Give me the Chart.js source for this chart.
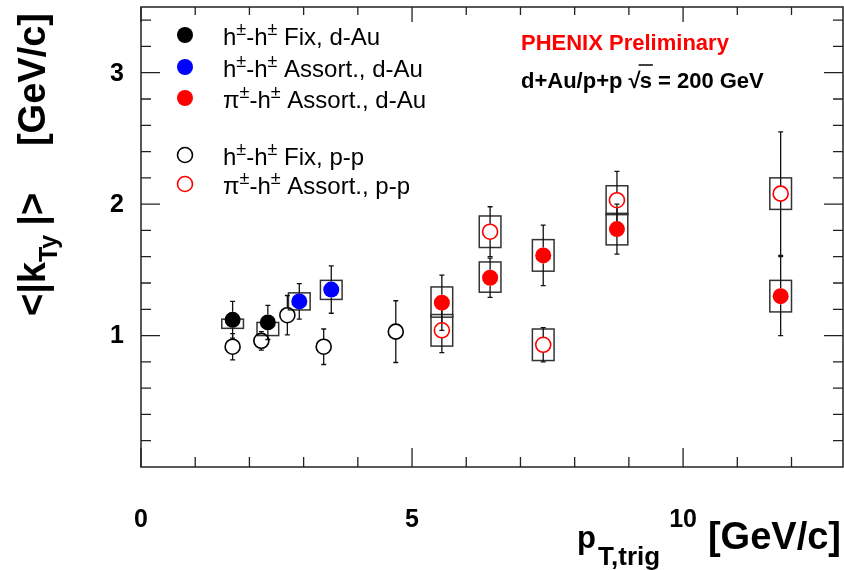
<!DOCTYPE html>
<html>
<head>
<meta charset="utf-8">
<script src="https://cdn.jsdelivr.net/npm/chart.js@4"></script>
<style>
html,body{margin:0;padding:0;background:#fff;}
#wrap{width:844px;height:570px;}
</style>
</head>
<body>
<div id="wrap"><canvas id="c" width="844" height="570"></canvas></div>
<script>
// ---------- DATA ----------
// h±-h± Fix, d-Au (filled black)
const fixDAuX = [1.69, 2.34];
const fixDAuY = [1.12, 1.10];
const fixDAuErr = [0.14, 0.13];
const fixDAuSysLo = [1.055, 1.00];
const fixDAuSysHi = [1.125, 1.10];

// h±-h± Assort., d-Au (filled blue)
const assDAuX = [2.92, 3.51];
const assDAuY = [1.26, 1.35];
const assDAuErr = [0.135, 0.18];
const assDAuSysLo = [1.195, 1.275];
const assDAuSysHi = [1.325, 1.42];

// π±-h± Assort., d-Au (filled red)
const piDAuX = [5.55, 6.44, 7.42, 8.78, 11.8];
const piDAuY = [1.25, 1.44, 1.61, 1.81, 1.30];
const piDAuErr = [0.21, 0.15, 0.23, 0.19, 0.30];
const piDAuSysLo = [1.14, 1.33, 1.49, 1.69, 1.18];
const piDAuSysHi = [1.37, 1.56, 1.73, 1.93, 1.42];

// h±-h± Fix, p-p (open black)
const fixPPX = [1.69, 2.22, 2.70, 3.37, 4.70];
const fixPPY = [0.915, 0.96, 1.155, 0.915, 1.03];
const fixPPErr = [0.10, 0.07, 0.15, 0.135, 0.235];

// π±-h± Assort., p-p (open red)
const piPPX = [5.55, 6.44, 7.42, 8.78, 11.8];
const piPPY = [1.04, 1.79, 0.93, 2.03, 2.08];
const piPPErr = [0.17, 0.19, 0.13, 0.22, 0.47];
const piPPSysLo = [0.92, 1.67, 0.81, 1.92, 1.96];
const piPPSysHi = [1.16, 1.91, 1.05, 2.14, 2.20];

const sysHalfWidth = 0.2;

// axes
const xMin = 0, xMax = 12.95, yMin = 0, yMax = 3.5;
const xMajorTicks = [0, 5, 10];
const xMinorTicks = [1, 2, 3, 4, 6, 7, 8, 9, 11, 12];
const yMajorTicks = [1, 2, 3];
const yMinorTicks = [0.2, 0.4, 0.6, 0.8, 1.2, 1.4, 1.6, 1.8, 2.2, 2.4, 2.6, 2.8, 3.2, 3.4];
const xTickLabels = ['0', '5', '10'];
const yTickLabels = ['1', '2', '3'];

// legend labels
const legendLabels = [
  [['h'], ['±', 'sup'], ['-h'], ['±', 'sup'], [' Fix, d-Au']],
  [['h'], ['±', 'sup'], ['-h'], ['±', 'sup'], [' Assort., d-Au']],
  [['π'], ['±', 'sup'], ['-h'], ['±', 'sup'], [' Assort., d-Au']],
  [['h'], ['±', 'sup'], ['-h'], ['±', 'sup'], [' Fix, p-p']],
  [['π'], ['±', 'sup'], ['-h'], ['±', 'sup'], [' Assort., p-p']]
];

const FONT = '"Liberation Sans", Arial, Helvetica, sans-serif';

function pts(xs, ys) { return xs.map((x, i) => ({x: x, y: ys[i]})); }

const series = [
  {label: 'h±-h± Fix, d-Au', x: fixDAuX, y: fixDAuY, err: fixDAuErr, lo: fixDAuSysLo, hi: fixDAuSysHi, color: '#000000', filled: true},
  {label: 'h±-h± Assort., d-Au', x: assDAuX, y: assDAuY, err: assDAuErr, lo: assDAuSysLo, hi: assDAuSysHi, color: '#0000ff', filled: true},
  {label: 'π±-h± Assort., d-Au', x: piDAuX, y: piDAuY, err: piDAuErr, lo: piDAuSysLo, hi: piDAuSysHi, color: '#ff0000', filled: true},
  {label: 'h±-h± Fix, p-p', x: fixPPX, y: fixPPY, err: fixPPErr, lo: null, hi: null, color: '#000000', filled: false},
  {label: 'π±-h± Assort., p-p', x: piPPX, y: piPPY, err: piPPErr, lo: piPPSysLo, hi: piPPSysHi, color: '#ff0000', filled: false}
];

const R_FILLED = 8, R_OPEN = 7.5;

// draw order: open first, then filled
const drawOrder = [3, 4, 0, 1, 2];
const datasets = drawOrder.map(i => {
  const s = series[i];
  return {
    label: s.label,
    data: pts(s.x, s.y),
    pointRadius: s.filled ? R_FILLED : R_OPEN,
    pointHoverRadius: s.filled ? R_FILLED : R_OPEN,
    pointBackgroundColor: s.filled ? s.color : 'rgba(0,0,0,0)',
    pointBorderColor: s.color,
    pointBorderWidth: s.filled ? 0 : 1.6,
    showLine: false
  };
});

function richText(ctx, parts, x, y, size, bold) {
  let cx = x;
  parts.forEach(p => {
    const isSup = p[1] === 'sup';
    const isSub = p[1] === 'sub';
    const fs = isSup || isSub ? Math.round(size * 0.75) : size;
    ctx.font = (bold ? 'bold ' : '') + fs + 'px ' + FONT;
    const dy = isSup ? -size * 0.4 : (isSub ? size * 0.3 : 0);
    ctx.fillText(p[0], cx, y + dy);
    cx += ctx.measureText(p[0]).width;
  });
  return cx;
}

const decorPlugin = {
  id: 'decor',
  beforeDatasetsDraw(chart) {
    const ctx = chart.ctx;
    const xs = chart.scales.x, ys = chart.scales.y;
    ctx.save();
    // systematic boxes
    ctx.strokeStyle = '#333';
    ctx.lineWidth = 1.5;
    series.forEach(s => {
      if (!s.lo) return;
      s.x.forEach((xv, i) => {
        const x0 = xs.getPixelForValue(xv - sysHalfWidth), x1 = xs.getPixelForValue(xv + sysHalfWidth);
        const y0 = ys.getPixelForValue(s.hi[i]), y1 = ys.getPixelForValue(s.lo[i]);
        ctx.strokeRect(x0, y0, x1 - x0, y1 - y0);
      });
    });
    // statistical error bars
    ctx.strokeStyle = '#111';
    ctx.lineWidth = 1.3;
    series.forEach(s => {
      const r = s.filled ? R_FILLED : R_OPEN;
      s.x.forEach((xv, i) => {
        const px = xs.getPixelForValue(xv);
        const py = ys.getPixelForValue(s.y[i]);
        const pHi = ys.getPixelForValue(s.y[i] + s.err[i]);
        const pLo = ys.getPixelForValue(s.y[i] - s.err[i]);
        ctx.beginPath();
        if (py - r > pHi) { ctx.moveTo(px, py - r); ctx.lineTo(px, pHi); }
        if (py + r < pLo) { ctx.moveTo(px, py + r); ctx.lineTo(px, pLo); }
        ctx.moveTo(px - 2.5, pHi); ctx.lineTo(px + 2.5, pHi);
        ctx.moveTo(px - 2.5, pLo); ctx.lineTo(px + 2.5, pLo);
        ctx.stroke();
      });
    });
    ctx.restore();
  },
  afterDraw(chart) {
    const ctx = chart.ctx;
    const xs = chart.scales.x, ys = chart.scales.y;
    const a = chart.chartArea;
    ctx.save();
    // frame
    ctx.strokeStyle = '#222';
    ctx.lineWidth = 1.5;
    ctx.strokeRect(a.left, a.top, a.right - a.left, a.bottom - a.top);
    // ticks
    ctx.lineWidth = 1.3;
    ctx.beginPath();
    xMajorTicks.forEach(v => {
      const p = xs.getPixelForValue(v);
      ctx.moveTo(p, a.bottom); ctx.lineTo(p, a.bottom - 19);
      ctx.moveTo(p, a.top); ctx.lineTo(p, a.top + 15);
    });
    xMinorTicks.forEach(v => {
      const p = xs.getPixelForValue(v);
      ctx.moveTo(p, a.bottom); ctx.lineTo(p, a.bottom - 10);
      ctx.moveTo(p, a.top); ctx.lineTo(p, a.top + 8);
    });
    yMajorTicks.forEach(v => {
      const p = ys.getPixelForValue(v);
      ctx.moveTo(a.left, p); ctx.lineTo(a.left + 19, p);
      ctx.moveTo(a.right, p); ctx.lineTo(a.right - 19, p);
    });
    yMinorTicks.forEach(v => {
      const p = ys.getPixelForValue(v);
      ctx.moveTo(a.left, p); ctx.lineTo(a.left + 10, p);
      ctx.moveTo(a.right, p); ctx.lineTo(a.right - 10, p);
    });
    ctx.stroke();

    // tick labels
    ctx.fillStyle = '#000';
    ctx.font = 'bold 25px ' + FONT;
    ctx.textAlign = 'center';
    ctx.textBaseline = 'middle';
    xMajorTicks.forEach((v, i) => {
      ctx.fillText(xTickLabels[i], xs.getPixelForValue(v), a.bottom + 53);
    });
    ctx.textAlign = 'right';
    yMajorTicks.forEach((v, i) => {
      ctx.fillText(yTickLabels[i], a.left - 17, ys.getPixelForValue(v) + 1);
    });

    // x title
    ctx.textAlign = 'left';
    ctx.textBaseline = 'alphabetic';
    ctx.font = 'bold 31px ' + FONT;
    ctx.fillText('p', 577, 548);
    ctx.font = 'bold 26px ' + FONT;
    ctx.fillText('T,trig', 598, 565);
    ctx.font = 'bold 38px ' + FONT;
    ctx.textAlign = 'right';
    ctx.fillText('[GeV/c]', 841, 549);

    // y title (rotated)
    ctx.save();
    ctx.translate(45, 0);
    ctx.rotate(-Math.PI / 2);
    ctx.textAlign = 'left';
    ctx.font = 'bold 38px ' + FONT;
    let lx = -316;
    ctx.fillText('<|k', lx, 0);
    lx += ctx.measureText('<|k').width;
    ctx.font = 'bold 25px ' + FONT;
    ctx.fillText('Ty', lx, 12);
    lx += ctx.measureText('Ty').width + 9;
    ctx.font = 'bold 38px ' + FONT;
    ctx.fillText('|>', lx, 0);
    ctx.textAlign = 'right';
    ctx.fillText('[GeV/c]', -13, 0);
    ctx.restore();

    // legend
    const rows = [35, 67, 98, 155, 184];
    ctx.textAlign = 'left';
    ctx.textBaseline = 'alphabetic';
    series.forEach((s, i) => {
      const cy = rows[i];
      ctx.beginPath();
      if (s.filled) {
        ctx.fillStyle = s.color;
        ctx.arc(185, cy, R_FILLED, 0, Math.PI * 2);
        ctx.fill();
      } else {
        ctx.strokeStyle = s.color;
        ctx.lineWidth = 1.6;
        ctx.arc(185, cy, R_OPEN, 0, Math.PI * 2);
        ctx.stroke();
      }
      ctx.fillStyle = '#000';
      richText(ctx, legendLabels[i], 223, cy + 10, 24, false);
    });

    // PHENIX labels
    ctx.fillStyle = '#ff0000';
    ctx.font = 'bold 22px ' + FONT;
    ctx.fillText('PHENIX Preliminary', 521, 50);
    ctx.fillStyle = '#000';
    ctx.font = 'bold 22px ' + FONT;
    let tx = 521;
    const t1 = 'd+Au/p+p ';
    ctx.fillText(t1, tx, 88);
    tx += ctx.measureText(t1).width;
    ctx.fillText('√', tx, 88);
    tx += ctx.measureText('√').width - 1;
    const sW = ctx.measureText('s').width;
    ctx.fillText('s', tx, 88);
    ctx.lineWidth = 1.5;
    ctx.strokeStyle = '#000';
    ctx.beginPath();
    ctx.moveTo(tx - 1, 65); ctx.lineTo(tx + sW + 1, 65);
    ctx.stroke();
    tx += sW;
    ctx.fillText(' = 200 GeV', tx, 88);

    ctx.restore();
  }
};

new Chart(document.getElementById('c'), {
  type: 'scatter',
  data: {datasets: datasets},
  options: {
    responsive: false,
    devicePixelRatio: 1,
    animation: false,
    layout: {autoPadding: false, padding: {left: 141, right: 1, top: 7, bottom: 103}},
    plugins: {legend: {display: false}, tooltip: {enabled: false}},
    scales: {
      x: {type: 'linear', min: xMin, max: xMax, display: false},
      y: {type: 'linear', min: yMin, max: yMax, display: false}
    }
  },
  plugins: [decorPlugin]
});
</script>
</body>
</html>
